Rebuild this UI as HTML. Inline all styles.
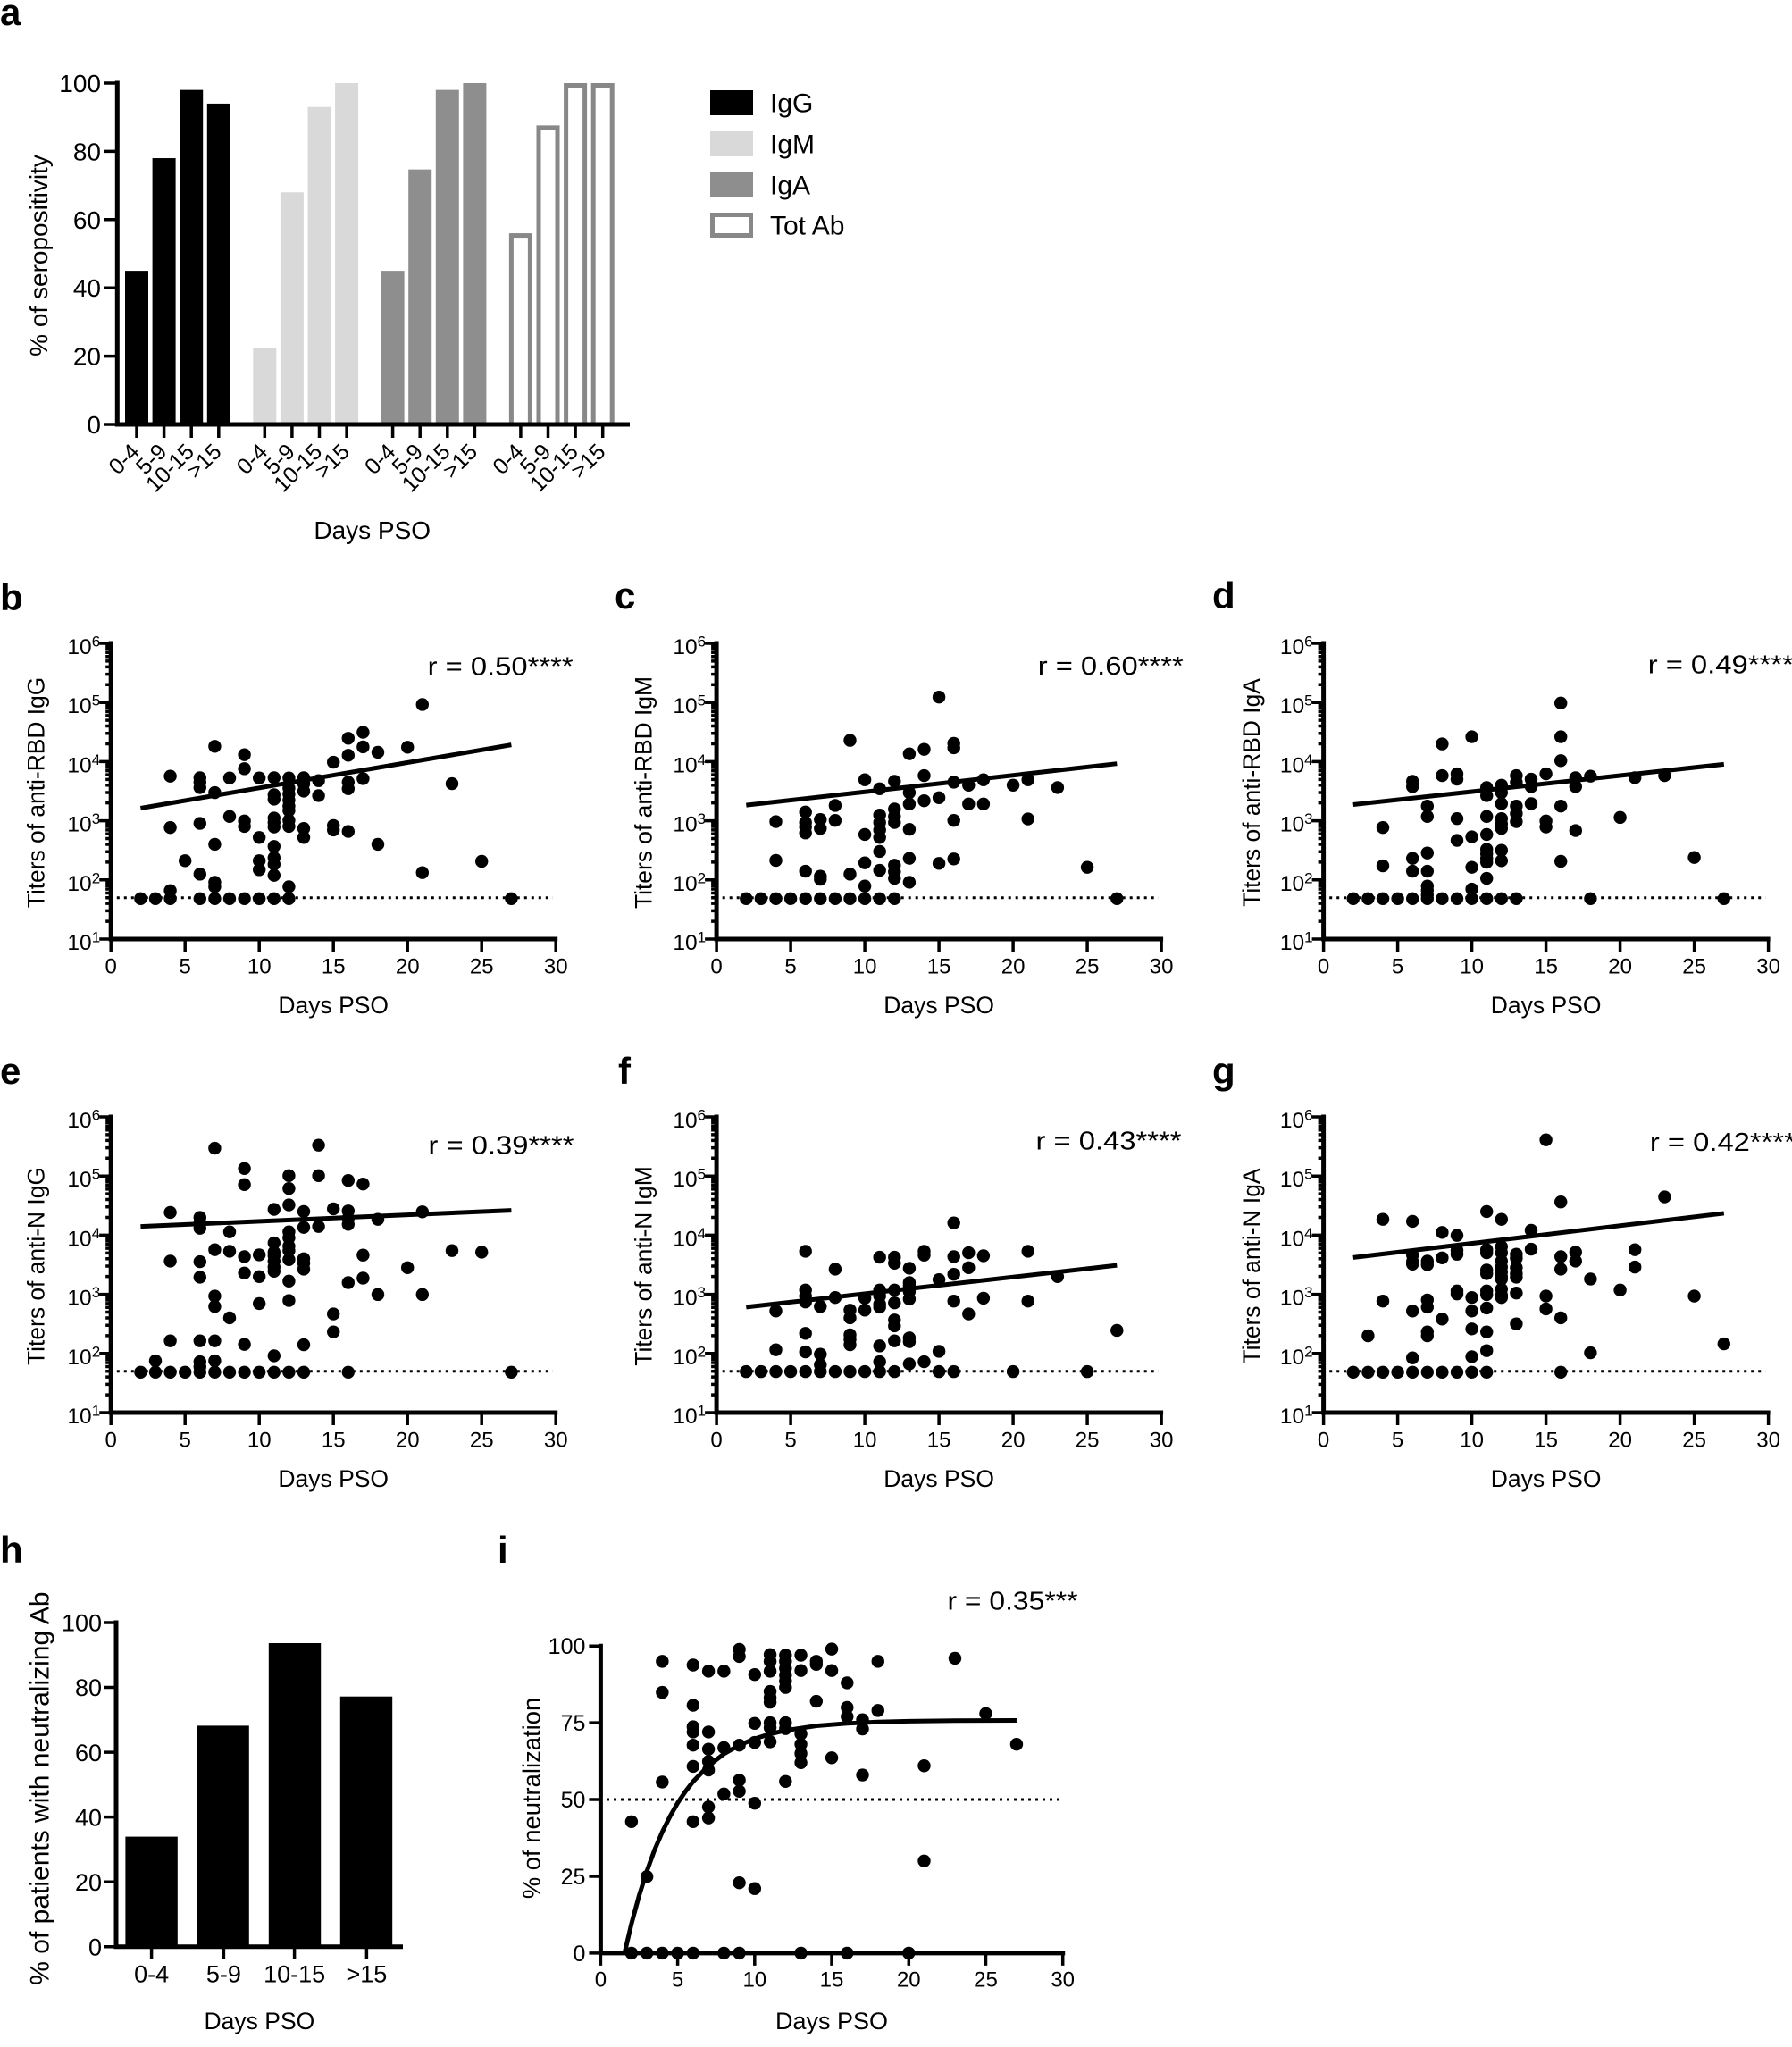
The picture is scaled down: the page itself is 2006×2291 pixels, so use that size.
<!DOCTYPE html>
<html><head><meta charset="utf-8"><style>
html,body{margin:0;padding:0;background:#fff}
svg{display:block}
text{font-family:"Liberation Sans",sans-serif;fill:#000}
.L{font-size:42px;font-weight:bold}
.xt text{font-size:24px;text-anchor:middle}
.yl{font-size:24.5px;text-anchor:end}
.sp{font-size:17px}
.xl{font-size:26.5px;text-anchor:middle}
.yt{font-size:26.4px;text-anchor:middle}
.r{font-size:29px}
</style></head><body>
<svg width="2006" height="2291" viewBox="0 0 2006 2291" xmlns="http://www.w3.org/2000/svg">
<rect width="2006" height="2291" fill="#fff"/>
<defs>
<ellipse id="o" cx="0" cy="0" rx=".434" ry="21.5" fill="#000"/>
<ellipse id="q" cx="0" cy="0" rx=".418" ry="2.095" fill="#000"/>
<path id="yt" fill="none" stroke="#000" stroke-width="3.5" d="M-13 0H0M-6 -19.93H0M-6 -31.59H0M-6 -39.86H0M-6 -46.27H0M-6 -51.51H0M-6 -55.95H0M-6 -59.78H0M-6 -63.17H0M-13 -66.2H0M-6 -86.13H0M-6 -97.79H0M-6 -106.06H0M-6 -112.47H0M-6 -117.71H0M-6 -122.15H0M-6 -125.98H0M-6 -129.37H0M-13 -132.4H0M-6 -152.33H0M-6 -163.99H0M-6 -172.26H0M-6 -178.67H0M-6 -183.91H0M-6 -188.35H0M-6 -192.18H0M-6 -195.57H0M-13 -198.6H0M-6 -218.53H0M-6 -230.19H0M-6 -238.46H0M-6 -244.87H0M-6 -250.11H0M-6 -254.55H0M-6 -258.38H0M-6 -261.77H0M-13 -264.8H0M-6 -284.73H0M-6 -296.39H0M-6 -304.66H0M-6 -311.07H0M-6 -316.31H0M-6 -320.75H0M-6 -324.58H0M-6 -327.97H0M-13 -331H0"/>
<path id="xtk" fill="none" stroke="#000" stroke-width="3.5" d="M0 0V14M83 0V14M166 0V14M249 0V14M332 0V14M415 0V14M498 0V14"/>
<path id="axs" fill="none" stroke="#000" stroke-width="5" d="M0 -333.5V2.5M-2.5 0H500"/>
<path id="dl" fill="none" stroke="#000" stroke-width="3" stroke-dasharray="3 5" d="M6.6 -46.3H494.7"/>
</defs>

<!-- ================= PANEL A ================= -->
<text class="L" x="0" y="28">a</text>
<g fill="#000">
<rect x="140" y="303.1" width="26" height="171.9"/>
<rect x="170.6" y="177.04" width="26" height="297.96"/>
<rect x="201.2" y="100.64" width="26" height="374.36"/>
<rect x="231.8" y="115.92" width="26" height="359.08"/>
</g>
<g fill="#d9d9d9">
<rect x="283.3" y="389.05" width="26" height="85.95"/>
<rect x="313.9" y="215.24" width="26" height="259.76"/>
<rect x="344.5" y="119.74" width="26" height="355.26"/>
<rect x="375.1" y="93" width="26" height="382"/>
</g>
<g fill="#8e8e8e">
<rect x="426.6" y="303.1" width="26" height="171.9"/>
<rect x="457.2" y="189.65" width="26" height="285.35"/>
<rect x="487.8" y="100.64" width="26" height="374.36"/>
<rect x="518.4" y="93" width="26" height="382"/>
</g>
<g fill="#fff" stroke="#888" stroke-width="5">
<rect x="572.4" y="263.58" width="21" height="211.42"/>
<rect x="603" y="142.87" width="21" height="332.13"/>
<rect x="633.6" y="95.5" width="21" height="379.5"/>
<rect x="664.2" y="95.5" width="21" height="379.5"/>
</g>
<path fill="none" stroke="#000" stroke-width="5" d="M131.3 90.5V477.5M128.8 475H705"/>
<path fill="none" stroke="#000" stroke-width="3.5" d="M116 475H131.3M116 398.6H131.3M116 322.2H131.3M116 245.8H131.3M116 169.4H131.3M116 93H131.3"/>
<path fill="none" stroke="#000" stroke-width="3.5" d="M153 477V490M183.6 477V490M214.2 477V490M244.8 477V490M296.3 477V490M326.9 477V490M357.5 477V490M388.1 477V490M439.6 477V490M470.2 477V490M500.8 477V490M531.4 477V490M582.9 477V490M613.5 477V490M644.1 477V490M674.7 477V490"/>
<g font-size="28" text-anchor="end">
<text x="113" y="485">0</text>
<text x="113" y="408.6">20</text>
<text x="113" y="332.2">40</text>
<text x="113" y="255.8">60</text>
<text x="113" y="179.4">80</text>
<text x="113" y="103">100</text>
</g>
<g font-size="25" text-anchor="end">
<text transform="translate(157.5,507) rotate(-45)">0-4</text>
<text transform="translate(188.1,507) rotate(-45)">5-9</text>
<text transform="translate(218.7,507) rotate(-45)">10-15</text>
<text transform="translate(249.3,507) rotate(-45)">&gt;15</text>
<text transform="translate(300.8,507) rotate(-45)">0-4</text>
<text transform="translate(331.4,507) rotate(-45)">5-9</text>
<text transform="translate(362,507) rotate(-45)">10-15</text>
<text transform="translate(392.6,507) rotate(-45)">&gt;15</text>
<text transform="translate(444.1,507) rotate(-45)">0-4</text>
<text transform="translate(474.7,507) rotate(-45)">5-9</text>
<text transform="translate(505.3,507) rotate(-45)">10-15</text>
<text transform="translate(535.9,507) rotate(-45)">&gt;15</text>
<text transform="translate(587.4,507) rotate(-45)">0-4</text>
<text transform="translate(618,507) rotate(-45)">5-9</text>
<text transform="translate(648.6,507) rotate(-45)">10-15</text>
<text transform="translate(679.2,507) rotate(-45)">&gt;15</text>
</g>
<text x="416.7" y="603" font-size="28" text-anchor="middle">Days PSO</text>
<text transform="translate(53,286) rotate(-90)" font-size="28" text-anchor="middle">% of seropositivity</text>
<!-- legend -->
<rect x="795" y="101" width="48" height="28" fill="#000"/>
<rect x="795" y="147" width="48" height="28" fill="#d9d9d9"/>
<rect x="795" y="193" width="48" height="28" fill="#8e8e8e"/>
<rect x="797.5" y="240.5" width="43" height="23" fill="#fff" stroke="#888" stroke-width="5"/>
<g font-size="30">
<text x="862" y="125.5">IgG</text>
<text x="862" y="171.5">IgM</text>
<text x="862" y="217.5">IgA</text>
<text x="862" y="262.5">Tot Ab</text>
</g>

<!-- ================= PANEL B ================= -->
<text class="L" x="0" y="683">b</text>
<g transform="translate(124.2,1051)">
<use href="#axs"/><use href="#yt"/><use href="#xtk"/><use href="#dl"/>
<g class="xt"><text x="0" y="38.5">0</text><text x="83" y="38.5">5</text><text x="166" y="38.5">10</text><text x="249" y="38.5">15</text><text x="332" y="38.5">20</text><text x="415" y="38.5">25</text><text x="498" y="38.5">30</text></g>
<text class="yl" x="-21.5" y="12">10</text><text class="sp" x="-21.5" y="3.5">1</text>
<text class="yl" x="-21.5" y="-54.2">10</text><text class="sp" x="-21.5" y="-62.7">2</text>
<text class="yl" x="-21.5" y="-120.4">10</text><text class="sp" x="-21.5" y="-128.9">3</text>
<text class="yl" x="-21.5" y="-186.6">10</text><text class="sp" x="-21.5" y="-195.1">4</text>
<text class="yl" x="-21.5" y="-252.8">10</text><text class="sp" x="-21.5" y="-261.3">5</text>
<text class="yl" x="-21.5" y="-319">10</text><text class="sp" x="-21.5" y="-327.5">6</text>
<text class="xl" x="249" y="83">Days PSO</text>
<text class="yt" transform="translate(-74.7,-164) rotate(-90)">Titers of anti-RBD IgG</text>
<text class="r" x="354.4" y="-295.5" textLength="163" lengthAdjust="spacingAndGlyphs">r = 0.50****</text>
<g transform="translate(0,-409.6) scale(16.6,0.3343)">
<use href="#o" x="2" y="1090"/><use href="#o" x="3" y="1090"/>
<use href="#o" x="4" y="680"/><use href="#o" x="4" y="852"/><use href="#o" x="4" y="1063"/><use href="#o" x="4" y="1090"/>
<use href="#o" x="5" y="963"/>
<use href="#o" x="6" y="685"/><use href="#o" x="6" y="700"/><use href="#o" x="6" y="718"/><use href="#o" x="6" y="838"/><use href="#o" x="6" y="1008"/><use href="#o" x="6" y="1090"/>
<use href="#o" x="7" y="580"/><use href="#o" x="7" y="735"/><use href="#o" x="7" y="908"/><use href="#o" x="7" y="1035"/><use href="#o" x="7" y="1050"/><use href="#o" x="7" y="1090"/>
<use href="#o" x="8" y="686"/><use href="#o" x="8" y="815"/><use href="#o" x="8" y="1090"/>
<use href="#o" x="9" y="608"/><use href="#o" x="9" y="655"/><use href="#o" x="9" y="830"/><use href="#o" x="9" y="848"/><use href="#o" x="9" y="1090"/>
<use href="#o" x="10" y="686"/><use href="#o" x="10" y="885"/><use href="#o" x="10" y="963"/><use href="#o" x="10" y="993"/><use href="#o" x="10" y="1090"/>
<use href="#o" x="11" y="685"/><use href="#o" x="11" y="742"/><use href="#o" x="11" y="757"/><use href="#o" x="11" y="820"/><use href="#o" x="11" y="835"/><use href="#o" x="11" y="850"/><use href="#o" x="11" y="915"/><use href="#o" x="11" y="953"/><use href="#o" x="11" y="975"/><use href="#o" x="11" y="1012"/><use href="#o" x="11" y="1090"/>
<use href="#o" x="12" y="686"/><use href="#o" x="12" y="720"/><use href="#o" x="12" y="740"/><use href="#o" x="12" y="760"/><use href="#o" x="12" y="780"/><use href="#o" x="12" y="795"/><use href="#o" x="12" y="828"/><use href="#o" x="12" y="848"/><use href="#o" x="12" y="1050"/><use href="#o" x="12" y="1090"/>
<use href="#o" x="13" y="685"/><use href="#o" x="13" y="705"/><use href="#o" x="13" y="730"/><use href="#o" x="13" y="855"/><use href="#o" x="13" y="885"/>
<use href="#o" x="14" y="695"/><use href="#o" x="14" y="745"/>
<use href="#o" x="15" y="633"/><use href="#o" x="15" y="845"/><use href="#o" x="15" y="860"/>
<use href="#o" x="16" y="553"/><use href="#o" x="16" y="610"/><use href="#o" x="16" y="700"/><use href="#o" x="16" y="722"/><use href="#o" x="16" y="865"/>
<use href="#o" x="17" y="533"/><use href="#o" x="17" y="582"/><use href="#o" x="17" y="688"/>
<use href="#o" x="18" y="600"/><use href="#o" x="18" y="908"/>
<use href="#o" x="20" y="583"/>
<use href="#o" x="21" y="440"/><use href="#o" x="21" y="1003"/>
<use href="#o" x="23" y="705"/><use href="#o" x="25" y="965"/><use href="#o" x="27" y="1090"/>
<line x1="2" y1="787" x2="27" y2="575" stroke="#000" stroke-width="5" vector-effect="non-scaling-stroke"/>
</g>
</g>

<!-- ================= PANEL C ================= -->
<text class="L" x="688" y="681">c</text>
<g transform="translate(802.1,1051)">
<use href="#axs"/><use href="#yt"/><use href="#xtk"/><use href="#dl"/>
<g class="xt"><text x="0" y="38.5">0</text><text x="83" y="38.5">5</text><text x="166" y="38.5">10</text><text x="249" y="38.5">15</text><text x="332" y="38.5">20</text><text x="415" y="38.5">25</text><text x="498" y="38.5">30</text></g>
<text class="yl" x="-21.5" y="12">10</text><text class="sp" x="-21.5" y="3.5">1</text>
<text class="yl" x="-21.5" y="-54.2">10</text><text class="sp" x="-21.5" y="-62.7">2</text>
<text class="yl" x="-21.5" y="-120.4">10</text><text class="sp" x="-21.5" y="-128.9">3</text>
<text class="yl" x="-21.5" y="-186.6">10</text><text class="sp" x="-21.5" y="-195.1">4</text>
<text class="yl" x="-21.5" y="-252.8">10</text><text class="sp" x="-21.5" y="-261.3">5</text>
<text class="yl" x="-21.5" y="-319">10</text><text class="sp" x="-21.5" y="-327.5">6</text>
<text class="xl" x="249" y="83">Days PSO</text>
<text class="yt" transform="translate(-72.6,-164) rotate(-90)">Titers of anti-RBD IgM</text>
<text class="r" x="359.6" y="-296" textLength="163" lengthAdjust="spacingAndGlyphs">r = 0.60****</text>
<g transform="translate(0,-409.6) scale(16.6,0.3343)">
<use href="#o" x="2" y="1090"/><use href="#o" x="3" y="1090"/>
<use href="#o" x="4" y="832"/><use href="#o" x="4" y="962"/><use href="#o" x="4" y="1090"/>
<use href="#o" x="5" y="1090"/>
<use href="#o" x="6" y="800"/><use href="#o" x="6" y="835"/><use href="#o" x="6" y="850"/><use href="#o" x="6" y="870"/><use href="#o" x="6" y="998"/><use href="#o" x="6" y="1090"/>
<use href="#o" x="7" y="825"/><use href="#o" x="7" y="855"/><use href="#o" x="7" y="1015"/><use href="#o" x="7" y="1025"/><use href="#o" x="7" y="1090"/>
<use href="#o" x="8" y="778"/><use href="#o" x="8" y="828"/><use href="#o" x="8" y="1090"/>
<use href="#o" x="9" y="560"/><use href="#o" x="9" y="1008"/><use href="#o" x="9" y="1090"/>
<use href="#o" x="10" y="692"/><use href="#o" x="10" y="875"/><use href="#o" x="10" y="970"/><use href="#o" x="10" y="1048"/><use href="#o" x="10" y="1090"/>
<use href="#o" x="11" y="722"/><use href="#o" x="11" y="810"/><use href="#o" x="11" y="835"/><use href="#o" x="11" y="860"/><use href="#o" x="11" y="885"/><use href="#o" x="11" y="932"/><use href="#o" x="11" y="995"/><use href="#o" x="11" y="1090"/>
<use href="#o" x="12" y="697"/><use href="#o" x="12" y="790"/><use href="#o" x="12" y="815"/><use href="#o" x="12" y="835"/><use href="#o" x="12" y="978"/><use href="#o" x="12" y="1000"/><use href="#o" x="12" y="1022"/><use href="#o" x="12" y="1090"/>
<use href="#o" x="13" y="605"/><use href="#o" x="13" y="735"/><use href="#o" x="13" y="773"/><use href="#o" x="13" y="858"/><use href="#o" x="13" y="955"/><use href="#o" x="13" y="1035"/>
<use href="#o" x="14" y="590"/><use href="#o" x="14" y="678"/><use href="#o" x="14" y="762"/>
<use href="#o" x="15" y="415"/><use href="#o" x="15" y="752"/><use href="#o" x="15" y="972"/>
<use href="#o" x="16" y="570"/><use href="#o" x="16" y="585"/><use href="#o" x="16" y="700"/><use href="#o" x="16" y="828"/><use href="#o" x="16" y="957"/>
<use href="#o" x="17" y="710"/><use href="#o" x="17" y="773"/>
<use href="#o" x="18" y="692"/><use href="#o" x="18" y="773"/>
<use href="#o" x="20" y="710"/>
<use href="#o" x="21" y="692"/><use href="#o" x="21" y="823"/>
<use href="#o" x="23" y="718"/><use href="#o" x="25" y="985"/><use href="#o" x="27" y="1090"/>
<line x1="2" y1="777" x2="27" y2="638" stroke="#000" stroke-width="5" vector-effect="non-scaling-stroke"/>
</g>
</g>

<!-- ================= PANEL D ================= -->
<text class="L" x="1357" y="681">d</text>
<g transform="translate(1481.6,1051)">
<use href="#axs"/><use href="#yt"/><use href="#xtk"/><use href="#dl"/>
<g class="xt"><text x="0" y="38.5">0</text><text x="83" y="38.5">5</text><text x="166" y="38.5">10</text><text x="249" y="38.5">15</text><text x="332" y="38.5">20</text><text x="415" y="38.5">25</text><text x="498" y="38.5">30</text></g>
<text class="yl" x="-21.5" y="12">10</text><text class="sp" x="-21.5" y="3.5">1</text>
<text class="yl" x="-21.5" y="-54.2">10</text><text class="sp" x="-21.5" y="-62.7">2</text>
<text class="yl" x="-21.5" y="-120.4">10</text><text class="sp" x="-21.5" y="-128.9">3</text>
<text class="yl" x="-21.5" y="-186.6">10</text><text class="sp" x="-21.5" y="-195.1">4</text>
<text class="yl" x="-21.5" y="-252.8">10</text><text class="sp" x="-21.5" y="-261.3">5</text>
<text class="yl" x="-21.5" y="-319">10</text><text class="sp" x="-21.5" y="-327.5">6</text>
<text class="xl" x="249" y="83">Days PSO</text>
<text class="yt" transform="translate(-71.6,-164) rotate(-90)">Titers of anti-RBD IgA</text>
<text class="r" x="363.1" y="-297.5" textLength="163" lengthAdjust="spacingAndGlyphs">r = 0.49****</text>
<g transform="translate(0,-409.6) scale(16.6,0.3343)">
<use href="#o" x="2" y="1090"/><use href="#o" x="3" y="1090"/>
<use href="#o" x="4" y="852"/><use href="#o" x="4" y="980"/><use href="#o" x="4" y="1090"/>
<use href="#o" x="5" y="1090"/>
<use href="#o" x="6" y="697"/><use href="#o" x="6" y="715"/><use href="#o" x="6" y="955"/><use href="#o" x="6" y="998"/><use href="#o" x="6" y="1090"/>
<use href="#o" x="7" y="780"/><use href="#o" x="7" y="815"/><use href="#o" x="7" y="937"/><use href="#o" x="7" y="998"/><use href="#o" x="7" y="1048"/><use href="#o" x="7" y="1062"/><use href="#o" x="7" y="1078"/><use href="#o" x="7" y="1090"/>
<use href="#o" x="8" y="572"/><use href="#o" x="8" y="678"/><use href="#o" x="8" y="1090"/>
<use href="#o" x="9" y="672"/><use href="#o" x="9" y="690"/><use href="#o" x="9" y="822"/><use href="#o" x="9" y="895"/><use href="#o" x="9" y="1090"/>
<use href="#o" x="10" y="548"/><use href="#o" x="10" y="883"/><use href="#o" x="10" y="985"/><use href="#o" x="10" y="1058"/><use href="#o" x="10" y="1090"/>
<use href="#o" x="11" y="718"/><use href="#o" x="11" y="745"/><use href="#o" x="11" y="815"/><use href="#o" x="11" y="875"/><use href="#o" x="11" y="925"/><use href="#o" x="11" y="940"/><use href="#o" x="11" y="955"/><use href="#o" x="11" y="968"/><use href="#o" x="11" y="1022"/><use href="#o" x="11" y="1090"/>
<use href="#o" x="12" y="710"/><use href="#o" x="12" y="735"/><use href="#o" x="12" y="772"/><use href="#o" x="12" y="822"/><use href="#o" x="12" y="840"/><use href="#o" x="12" y="855"/><use href="#o" x="12" y="928"/><use href="#o" x="12" y="963"/><use href="#o" x="12" y="1090"/>
<use href="#o" x="13" y="678"/><use href="#o" x="13" y="700"/><use href="#o" x="13" y="780"/><use href="#o" x="13" y="805"/><use href="#o" x="13" y="832"/><use href="#o" x="13" y="1090"/>
<use href="#o" x="14" y="690"/><use href="#o" x="14" y="715"/><use href="#o" x="14" y="772"/>
<use href="#o" x="15" y="672"/><use href="#o" x="15" y="830"/><use href="#o" x="15" y="850"/>
<use href="#o" x="16" y="435"/><use href="#o" x="16" y="548"/><use href="#o" x="16" y="628"/><use href="#o" x="16" y="780"/><use href="#o" x="16" y="965"/>
<use href="#o" x="17" y="685"/><use href="#o" x="17" y="715"/><use href="#o" x="17" y="862"/>
<use href="#o" x="18" y="680"/><use href="#o" x="18" y="1090"/>
<use href="#o" x="20" y="818"/><use href="#o" x="21" y="685"/><use href="#o" x="23" y="678"/><use href="#o" x="25" y="952"/><use href="#o" x="27" y="1090"/>
<line x1="2" y1="775" x2="27" y2="640" stroke="#000" stroke-width="5" vector-effect="non-scaling-stroke"/>
</g>
</g>

<!-- ================= PANEL E ================= -->
<text class="L" x="0" y="1213">e</text>
<g transform="translate(124.2,1581)">
<use href="#axs"/><use href="#yt"/><use href="#xtk"/><use href="#dl"/>
<g class="xt"><text x="0" y="38.5">0</text><text x="83" y="38.5">5</text><text x="166" y="38.5">10</text><text x="249" y="38.5">15</text><text x="332" y="38.5">20</text><text x="415" y="38.5">25</text><text x="498" y="38.5">30</text></g>
<text class="yl" x="-21.5" y="12">10</text><text class="sp" x="-21.5" y="3.5">1</text>
<text class="yl" x="-21.5" y="-54.2">10</text><text class="sp" x="-21.5" y="-62.7">2</text>
<text class="yl" x="-21.5" y="-120.4">10</text><text class="sp" x="-21.5" y="-128.9">3</text>
<text class="yl" x="-21.5" y="-186.6">10</text><text class="sp" x="-21.5" y="-195.1">4</text>
<text class="yl" x="-21.5" y="-252.8">10</text><text class="sp" x="-21.5" y="-261.3">5</text>
<text class="yl" x="-21.5" y="-319">10</text><text class="sp" x="-21.5" y="-327.5">6</text>
<text class="xl" x="249" y="83">Days PSO</text>
<text class="yt" transform="translate(-74.7,-164) rotate(-90)">Titers of anti-N IgG</text>
<text class="r" x="355.3" y="-289.5" textLength="163" lengthAdjust="spacingAndGlyphs">r = 0.39****</text>
<g transform="translate(0,-409.6) scale(16.6,0.3343)">
<use href="#o" x="2" y="1090"/>
<use href="#o" x="3" y="1052"/><use href="#o" x="3" y="1090"/>
<use href="#o" x="4" y="555"/><use href="#o" x="4" y="718"/><use href="#o" x="4" y="985"/><use href="#o" x="4" y="1090"/>
<use href="#o" x="5" y="1090"/>
<use href="#o" x="6" y="572"/><use href="#o" x="6" y="590"/><use href="#o" x="6" y="608"/><use href="#o" x="6" y="720"/><use href="#o" x="6" y="772"/><use href="#o" x="6" y="985"/><use href="#o" x="6" y="1055"/><use href="#o" x="6" y="1072"/><use href="#o" x="6" y="1090"/>
<use href="#o" x="7" y="340"/><use href="#o" x="7" y="680"/><use href="#o" x="7" y="835"/><use href="#o" x="7" y="870"/><use href="#o" x="7" y="985"/><use href="#o" x="7" y="1052"/><use href="#o" x="7" y="1090"/>
<use href="#o" x="8" y="620"/><use href="#o" x="8" y="685"/><use href="#o" x="8" y="908"/><use href="#o" x="8" y="1090"/>
<use href="#o" x="9" y="408"/><use href="#o" x="9" y="462"/><use href="#o" x="9" y="703"/><use href="#o" x="9" y="758"/><use href="#o" x="9" y="997"/><use href="#o" x="9" y="1090"/>
<use href="#o" x="10" y="697"/><use href="#o" x="10" y="770"/><use href="#o" x="10" y="860"/><use href="#o" x="10" y="1090"/>
<use href="#o" x="11" y="545"/><use href="#o" x="11" y="657"/><use href="#o" x="11" y="688"/><use href="#o" x="11" y="700"/><use href="#o" x="11" y="718"/><use href="#o" x="11" y="738"/><use href="#o" x="11" y="752"/><use href="#o" x="11" y="1035"/><use href="#o" x="11" y="1090"/>
<use href="#o" x="12" y="432"/><use href="#o" x="12" y="475"/><use href="#o" x="12" y="530"/><use href="#o" x="12" y="620"/><use href="#o" x="12" y="640"/><use href="#o" x="12" y="668"/><use href="#o" x="12" y="683"/><use href="#o" x="12" y="713"/><use href="#o" x="12" y="785"/><use href="#o" x="12" y="850"/><use href="#o" x="12" y="1090"/>
<use href="#o" x="13" y="552"/><use href="#o" x="13" y="605"/><use href="#o" x="13" y="710"/><use href="#o" x="13" y="725"/><use href="#o" x="13" y="745"/><use href="#o" x="13" y="998"/><use href="#o" x="13" y="1090"/>
<use href="#o" x="14" y="330"/><use href="#o" x="14" y="432"/><use href="#o" x="14" y="602"/>
<use href="#o" x="15" y="543"/><use href="#o" x="15" y="895"/><use href="#o" x="15" y="955"/>
<use href="#o" x="16" y="448"/><use href="#o" x="16" y="550"/><use href="#o" x="16" y="575"/><use href="#o" x="16" y="595"/><use href="#o" x="16" y="790"/><use href="#o" x="16" y="1090"/>
<use href="#o" x="17" y="460"/><use href="#o" x="17" y="698"/><use href="#o" x="17" y="775"/>
<use href="#o" x="18" y="578"/><use href="#o" x="18" y="830"/>
<use href="#o" x="20" y="740"/>
<use href="#o" x="21" y="553"/><use href="#o" x="21" y="830"/>
<use href="#o" x="23" y="683"/><use href="#o" x="25" y="688"/><use href="#o" x="27" y="1090"/>
<line x1="2" y1="602" x2="27" y2="548" stroke="#000" stroke-width="5" vector-effect="non-scaling-stroke"/>
</g>
</g>

<!-- ================= PANEL F ================= -->
<text class="L" x="692" y="1213">f</text>
<g transform="translate(802.1,1581)">
<use href="#axs"/><use href="#yt"/><use href="#xtk"/><use href="#dl"/>
<g class="xt"><text x="0" y="38.5">0</text><text x="83" y="38.5">5</text><text x="166" y="38.5">10</text><text x="249" y="38.5">15</text><text x="332" y="38.5">20</text><text x="415" y="38.5">25</text><text x="498" y="38.5">30</text></g>
<text class="yl" x="-21.5" y="12">10</text><text class="sp" x="-21.5" y="3.5">1</text>
<text class="yl" x="-21.5" y="-54.2">10</text><text class="sp" x="-21.5" y="-62.7">2</text>
<text class="yl" x="-21.5" y="-120.4">10</text><text class="sp" x="-21.5" y="-128.9">3</text>
<text class="yl" x="-21.5" y="-186.6">10</text><text class="sp" x="-21.5" y="-195.1">4</text>
<text class="yl" x="-21.5" y="-252.8">10</text><text class="sp" x="-21.5" y="-261.3">5</text>
<text class="yl" x="-21.5" y="-319">10</text><text class="sp" x="-21.5" y="-327.5">6</text>
<text class="xl" x="249" y="83">Days PSO</text>
<text class="yt" transform="translate(-72.6,-164) rotate(-90)">Titers of anti-N IgM</text>
<text class="r" x="357.4" y="-294.5" textLength="163" lengthAdjust="spacingAndGlyphs">r = 0.43****</text>
<g transform="translate(0,-409.6) scale(16.6,0.3343)">
<use href="#o" x="2" y="1088"/><use href="#o" x="3" y="1088"/>
<use href="#o" x="4" y="885"/><use href="#o" x="4" y="1015"/><use href="#o" x="4" y="1088"/>
<use href="#o" x="5" y="1088"/>
<use href="#o" x="6" y="685"/><use href="#o" x="6" y="815"/><use href="#o" x="6" y="835"/><use href="#o" x="6" y="855"/><use href="#o" x="6" y="960"/><use href="#o" x="6" y="1022"/><use href="#o" x="6" y="1088"/>
<use href="#o" x="7" y="870"/><use href="#o" x="7" y="1030"/><use href="#o" x="7" y="1065"/><use href="#o" x="7" y="1088"/>
<use href="#o" x="8" y="745"/><use href="#o" x="8" y="840"/><use href="#o" x="8" y="1088"/>
<use href="#o" x="9" y="882"/><use href="#o" x="9" y="908"/><use href="#o" x="9" y="965"/><use href="#o" x="9" y="980"/><use href="#o" x="9" y="998"/><use href="#o" x="9" y="1088"/>
<use href="#o" x="10" y="842"/><use href="#o" x="10" y="882"/><use href="#o" x="10" y="1088"/>
<use href="#o" x="11" y="705"/><use href="#o" x="11" y="815"/><use href="#o" x="11" y="835"/><use href="#o" x="11" y="862"/><use href="#o" x="11" y="872"/><use href="#o" x="11" y="1002"/><use href="#o" x="11" y="1055"/><use href="#o" x="11" y="1088"/>
<use href="#o" x="12" y="705"/><use href="#o" x="12" y="725"/><use href="#o" x="12" y="815"/><use href="#o" x="12" y="858"/><use href="#o" x="12" y="915"/><use href="#o" x="12" y="935"/><use href="#o" x="12" y="985"/><use href="#o" x="12" y="1088"/>
<use href="#o" x="13" y="742"/><use href="#o" x="13" y="790"/><use href="#o" x="13" y="800"/><use href="#o" x="13" y="820"/><use href="#o" x="13" y="845"/><use href="#o" x="13" y="975"/><use href="#o" x="13" y="988"/><use href="#o" x="13" y="1062"/>
<use href="#o" x="14" y="685"/><use href="#o" x="14" y="698"/><use href="#o" x="14" y="1055"/>
<use href="#o" x="15" y="780"/><use href="#o" x="15" y="1020"/><use href="#o" x="15" y="1088"/>
<use href="#o" x="16" y="590"/><use href="#o" x="16" y="703"/><use href="#o" x="16" y="762"/><use href="#o" x="16" y="852"/><use href="#o" x="16" y="1088"/>
<use href="#o" x="17" y="690"/><use href="#o" x="17" y="740"/><use href="#o" x="17" y="895"/>
<use href="#o" x="18" y="700"/><use href="#o" x="18" y="842"/>
<use href="#o" x="20" y="1088"/>
<use href="#o" x="21" y="685"/><use href="#o" x="21" y="852"/>
<use href="#o" x="23" y="770"/><use href="#o" x="25" y="1088"/><use href="#o" x="27" y="950"/>
<line x1="2" y1="872" x2="27" y2="732" stroke="#000" stroke-width="5" vector-effect="non-scaling-stroke"/>
</g>
</g>

<!-- ================= PANEL G ================= -->
<text class="L" x="1357" y="1213">g</text>
<g transform="translate(1481.6,1581)">
<use href="#axs"/><use href="#yt"/><use href="#xtk"/><use href="#dl"/>
<g class="xt"><text x="0" y="38.5">0</text><text x="83" y="38.5">5</text><text x="166" y="38.5">10</text><text x="249" y="38.5">15</text><text x="332" y="38.5">20</text><text x="415" y="38.5">25</text><text x="498" y="38.5">30</text></g>
<text class="yl" x="-21.5" y="12">10</text><text class="sp" x="-21.5" y="3.5">1</text>
<text class="yl" x="-21.5" y="-54.2">10</text><text class="sp" x="-21.5" y="-62.7">2</text>
<text class="yl" x="-21.5" y="-120.4">10</text><text class="sp" x="-21.5" y="-128.9">3</text>
<text class="yl" x="-21.5" y="-186.6">10</text><text class="sp" x="-21.5" y="-195.1">4</text>
<text class="yl" x="-21.5" y="-252.8">10</text><text class="sp" x="-21.5" y="-261.3">5</text>
<text class="yl" x="-21.5" y="-319">10</text><text class="sp" x="-21.5" y="-327.5">6</text>
<text class="xl" x="249" y="83">Days PSO</text>
<text class="yt" transform="translate(-71.6,-164) rotate(-90)">Titers of anti-N IgA</text>
<text class="r" x="365.3" y="-293" textLength="163" lengthAdjust="spacingAndGlyphs">r = 0.42****</text>
<g transform="translate(0,-409.6) scale(16.6,0.3343)">
<use href="#o" x="2" y="1090"/>
<use href="#o" x="3" y="968"/><use href="#o" x="3" y="1090"/>
<use href="#o" x="4" y="578"/><use href="#o" x="4" y="852"/><use href="#o" x="4" y="1090"/>
<use href="#o" x="5" y="1090"/>
<use href="#o" x="6" y="585"/><use href="#o" x="6" y="698"/><use href="#o" x="6" y="720"/><use href="#o" x="6" y="728"/><use href="#o" x="6" y="885"/><use href="#o" x="6" y="1042"/><use href="#o" x="6" y="1090"/>
<use href="#o" x="7" y="718"/><use href="#o" x="7" y="730"/><use href="#o" x="7" y="848"/><use href="#o" x="7" y="872"/><use href="#o" x="7" y="955"/><use href="#o" x="7" y="968"/><use href="#o" x="7" y="1090"/>
<use href="#o" x="8" y="622"/><use href="#o" x="8" y="707"/><use href="#o" x="8" y="912"/><use href="#o" x="8" y="1090"/>
<use href="#o" x="9" y="632"/><use href="#o" x="9" y="682"/><use href="#o" x="9" y="695"/><use href="#o" x="9" y="818"/><use href="#o" x="9" y="828"/><use href="#o" x="9" y="1090"/>
<use href="#o" x="10" y="840"/><use href="#o" x="10" y="885"/><use href="#o" x="10" y="945"/><use href="#o" x="10" y="1038"/><use href="#o" x="10" y="1090"/>
<use href="#o" x="11" y="552"/><use href="#o" x="11" y="680"/><use href="#o" x="11" y="690"/><use href="#o" x="11" y="748"/><use href="#o" x="11" y="760"/><use href="#o" x="11" y="818"/><use href="#o" x="11" y="830"/><use href="#o" x="11" y="875"/><use href="#o" x="11" y="955"/><use href="#o" x="11" y="1018"/><use href="#o" x="11" y="1090"/>
<use href="#o" x="12" y="578"/><use href="#o" x="12" y="670"/><use href="#o" x="12" y="690"/><use href="#o" x="12" y="718"/><use href="#o" x="12" y="738"/><use href="#o" x="12" y="755"/><use href="#o" x="12" y="770"/><use href="#o" x="12" y="778"/><use href="#o" x="12" y="812"/><use href="#o" x="12" y="832"/><use href="#o" x="12" y="840"/>
<use href="#o" x="13" y="695"/><use href="#o" x="13" y="708"/><use href="#o" x="13" y="740"/><use href="#o" x="13" y="760"/><use href="#o" x="13" y="772"/><use href="#o" x="13" y="825"/><use href="#o" x="13" y="928"/>
<use href="#o" x="14" y="615"/><use href="#o" x="14" y="678"/>
<use href="#o" x="15" y="312"/><use href="#o" x="15" y="835"/><use href="#o" x="15" y="878"/>
<use href="#o" x="16" y="520"/><use href="#o" x="16" y="703"/><use href="#o" x="16" y="745"/><use href="#o" x="16" y="908"/><use href="#o" x="16" y="1090"/>
<use href="#o" x="17" y="688"/><use href="#o" x="17" y="718"/>
<use href="#o" x="18" y="778"/><use href="#o" x="18" y="1025"/>
<use href="#o" x="20" y="815"/>
<use href="#o" x="21" y="680"/><use href="#o" x="21" y="738"/>
<use href="#o" x="23" y="503"/><use href="#o" x="25" y="835"/><use href="#o" x="27" y="995"/>
<line x1="2" y1="706" x2="27" y2="558" stroke="#000" stroke-width="5" vector-effect="non-scaling-stroke"/>
</g>
</g>

<!-- ================= PANEL H ================= -->
<text class="L" x="0" y="1749">h</text>
<g fill="#000">
<rect x="140.4" y="2055.6" width="58.4" height="123.1"/>
<rect x="220.4" y="1931.4" width="58.4" height="247.3"/>
<rect x="300.8" y="1839" width="58.4" height="339.7"/>
<rect x="380.8" y="1898.7" width="58.4" height="280"/>
</g>
<path fill="none" stroke="#000" stroke-width="5" d="M130 1813.5V2181.2M127.5 2178.7H451"/>
<path fill="none" stroke="#000" stroke-width="3.5" d="M116 2178.7H130M116 2106.2H130M116 2033.6H130M116 1961.1H130M116 1888.5H130M116 1816H130M169.6 2181V2193M250.4 2181V2193M329.6 2181V2193M410.4 2181V2193"/>
<g font-size="27" text-anchor="end">
<text x="114" y="2188.4">0</text>
<text x="114" y="2115.9">20</text>
<text x="114" y="2043.3">40</text>
<text x="114" y="1970.8">60</text>
<text x="114" y="1898.2">80</text>
<text x="114" y="1825.7">100</text>
</g>
<g font-size="27" text-anchor="middle">
<text x="169.6" y="2218.7">0-4</text>
<text x="250.4" y="2218.7">5-9</text>
<text x="329.6" y="2218.7">10-15</text>
<text x="410.4" y="2218.7">&gt;15</text>
</g>
<text x="290.4" y="2271" font-size="26.5" text-anchor="middle">Days PSO</text>
<text transform="translate(54.3,2001.6) rotate(-90)" font-size="30" text-anchor="middle">% of patients with neutralizing Ab</text>

<!-- ================= PANEL I ================= -->
<text class="L" x="557" y="1749">i</text>
<g transform="translate(672.4,2185.9)">
<path fill="none" stroke="#000" stroke-width="5" d="M0 -346.2V2.5M-2.5 0H519.8"/>
<path fill="none" stroke="#000" stroke-width="3.5" d="M-13 0H0M-13 -85.9H0M-13 -171.9H0M-13 -257.8H0M-13 -343.7H0M0 0V14M86.2 0V14M172.4 0V14M258.6 0V14M344.9 0V14M431.1 0V14M517.3 0V14"/>
<path fill="none" stroke="#000" stroke-width="3" stroke-dasharray="3 5" d="M6.6 -171.9H514"/>
<g font-size="25" text-anchor="end">
<text x="-17" y="9">0</text>
<text x="-17" y="-76.9">25</text>
<text x="-17" y="-162.9">50</text>
<text x="-17" y="-248.8">75</text>
<text x="-17" y="-334.7">100</text>
</g>
<g class="xt"><text x="0" y="37.7">0</text><text x="86.2" y="37.7">5</text><text x="172.4" y="37.7">10</text><text x="258.6" y="37.7">15</text><text x="344.9" y="37.7">20</text><text x="431.1" y="37.7">25</text><text x="517.3" y="37.7">30</text></g>
<text x="258.6" y="85.1" font-size="27" text-anchor="middle">Days PSO</text>
<text transform="translate(-67.7,-173.4) rotate(-90)" font-size="27.4" text-anchor="middle">% of neutralization</text>
<text class="r" x="388.1" y="-384.4" textLength="146" lengthAdjust="spacingAndGlyphs">r = 0.35***</text>
<g transform="scale(17.243,-3.437)">
<use href="#q" x="2" y="42.8"/><use href="#q" x="2" y="0"/>
<use href="#q" x="3" y="24.9"/><use href="#q" x="3" y="0"/>
<use href="#q" x="4" y="95"/><use href="#q" x="4" y="84.9"/><use href="#q" x="4" y="55.7"/><use href="#q" x="4" y="0"/>
<use href="#q" x="5" y="0"/>
<use href="#q" x="6" y="93.8"/><use href="#q" x="6" y="80.7"/><use href="#q" x="6" y="73.7"/><use href="#q" x="6" y="72"/><use href="#q" x="6" y="67.7"/><use href="#q" x="6" y="60.8"/><use href="#q" x="6" y="42.8"/><use href="#q" x="6" y="0"/>
<use href="#q" x="7" y="91.8"/><use href="#q" x="7" y="72"/><use href="#q" x="7" y="66.4"/><use href="#q" x="7" y="62.4"/><use href="#q" x="7" y="59.6"/><use href="#q" x="7" y="47.6"/><use href="#q" x="7" y="44"/>
<use href="#q" x="8" y="91.8"/><use href="#q" x="8" y="66.9"/><use href="#q" x="8" y="51.8"/><use href="#q" x="8" y="0"/>
<use href="#q" x="9" y="98.9"/><use href="#q" x="9" y="96.6"/><use href="#q" x="9" y="67.7"/><use href="#q" x="9" y="56.3"/><use href="#q" x="9" y="52.7"/><use href="#q" x="9" y="22.9"/><use href="#q" x="9" y="0"/>
<use href="#q" x="10" y="90.7"/><use href="#q" x="10" y="74.8"/><use href="#q" x="10" y="68.6"/><use href="#q" x="10" y="48.8"/><use href="#q" x="10" y="21"/>
<use href="#q" x="11" y="97.2"/><use href="#q" x="11" y="95"/><use href="#q" x="11" y="91.8"/><use href="#q" x="11" y="85.2"/><use href="#q" x="11" y="83.2"/><use href="#q" x="11" y="81.7"/><use href="#q" x="11" y="75"/><use href="#q" x="11" y="73.4"/><use href="#q" x="11" y="68.8"/>
<use href="#q" x="12" y="97"/><use href="#q" x="12" y="95"/><use href="#q" x="12" y="92.7"/><use href="#q" x="12" y="90.5"/><use href="#q" x="12" y="88.6"/><use href="#q" x="12" y="86.5"/><use href="#q" x="12" y="75"/><use href="#q" x="12" y="73.1"/><use href="#q" x="12" y="55.9"/>
<use href="#q" x="13" y="97"/><use href="#q" x="13" y="92"/><use href="#q" x="13" y="71.4"/><use href="#q" x="13" y="68"/><use href="#q" x="13" y="65"/><use href="#q" x="13" y="62"/><use href="#q" x="13" y="0"/>
<use href="#q" x="14" y="95"/><use href="#q" x="14" y="94"/><use href="#q" x="14" y="82"/>
<use href="#q" x="15" y="99"/><use href="#q" x="15" y="92"/><use href="#q" x="15" y="63.6"/>
<use href="#q" x="16" y="88"/><use href="#q" x="16" y="80"/><use href="#q" x="16" y="77"/><use href="#q" x="16" y="0"/>
<use href="#q" x="17" y="76"/><use href="#q" x="17" y="73"/><use href="#q" x="17" y="58"/>
<use href="#q" x="18" y="95"/><use href="#q" x="18" y="79"/>
<use href="#q" x="20" y="0"/>
<use href="#q" x="21" y="61"/><use href="#q" x="21" y="30"/>
<use href="#q" x="23" y="96"/><use href="#q" x="25" y="78"/><use href="#q" x="27" y="68"/>
<polyline fill="none" stroke="#000" stroke-width="5" vector-effect="non-scaling-stroke" points="1.55,0 2,9.57 2.5,18.8 3,26.7 3.5,33.6 4,39.45 4.5,44.5 5,48.9 5.5,52.6 6,55.85 7,61 8,64.85 9,67.7 10,69.8 11,71.35 12,72.5 14,74 16,74.8 18,75.25 20,75.5 23,75.7 27,75.76"/>
</g>
</g>
</svg>
</body></html>
